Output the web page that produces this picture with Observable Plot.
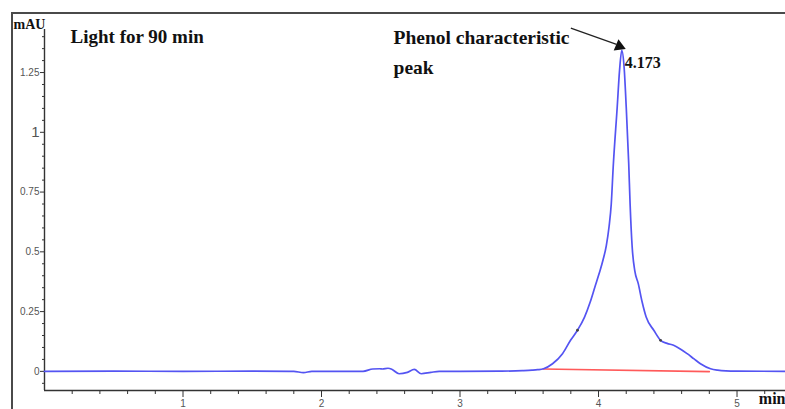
<!DOCTYPE html>
<html>
<head>
<meta charset="utf-8">
<script src="https://cdn.jsdelivr.net/npm/d3@7"></script>
<script src="https://cdn.jsdelivr.net/npm/@observablehq/plot@0.6"></script>
<style>
  html, body { margin: 0; padding: 0; background: #fff; }
  #wrap { position: relative; width: 785px; height: 409px; overflow: hidden; }
  #border { position: absolute; left: 11px; top: 12px; width: 800px; height: 420px;
            border-left: 2px solid #4a4a4a; border-top: 2px solid #4a4a4a; pointer-events: none; }
</style>
</head>
<body>
<div id="wrap"><div id="border"></div></div>
<script>
// Chromatogram trace (time in min, absorbance in mAU)
const time = [0, 0.5, 1.0, 1.5, 1.8, 1.87, 1.93, 2.3, 2.37, 2.42, 2.44, 2.48, 2.51, 2.56, 2.62, 2.67, 2.72, 2.79, 2.85,
  3.0, 3.3, 3.45, 3.52, 3.56, 3.603, 3.668, 3.74, 3.798, 3.848, 3.899, 3.94, 3.975, 4.005, 4.032, 4.056, 4.076, 4.092, 4.106,
  4.135, 4.152, 4.168, 4.185, 4.20, 4.218, 4.228, 4.243, 4.262, 4.287, 4.315, 4.344, 4.399, 4.448, 4.495, 4.542, 4.59,
  4.64, 4.69, 4.736, 4.809, 4.86, 4.92, 5.0, 5.35];
const mAU = [0, 0.001, 0.000, 0.001, 0.000, -0.005, 0.000, 0.000, 0.010, 0.011, 0.010, 0.013, 0.008, -0.010, -0.004, 0.008, -0.010, -0.004, 0.000,
  0.000, 0.001, 0.003, 0.005, 0.007, 0.011, 0.032, 0.074, 0.13, 0.172, 0.227, 0.29, 0.355, 0.41, 0.465, 0.525, 0.605, 0.70, 0.855,
  1.106, 1.26, 1.343, 1.27, 1.106, 0.87, 0.70, 0.52, 0.42, 0.367, 0.29, 0.227, 0.172, 0.13, 0.117, 0.109, 0.094,
  0.074, 0.052, 0.032, 0.011, 0.005, 0.002, 0.001, 0.000];

// Integration baseline
const baseX = [3.60, 4.80];
const baseY = [0.010, -0.001];

// Peak start/end integration marks
const markX = [3.848, 4.448];
const markY = [0.172, 0.13];

// Axis ticks
const xMajor = [1, 2, 3, 4, 5];
const xMinor = d3.range(0.2, 5.35, 0.2).filter(v => Math.abs(v - Math.round(v)) > 0.01);
const yMajor = [0, 0.25, 0.5, 0.75, 1, 1.25];
const yMajorLabels = ["0", "0.25", "0.5", "0.75", "1", "1.25"];
const yMinor = d3.range(-0.05, 1.42, 0.05).filter(v => Math.abs(v / 0.25 - Math.round(v / 0.25)) > 0.01);

// Annotation
const peakLabel = "4.173";

const trace = time.map((t, i) => ({t, v: mAU[i]}));
const baseline = baseX.map((t, i) => ({t, v: baseY[i]}));
const marks = markX.map((t, i) => ({t, v: markY[i]}));
const yLab = yMajor.map((v, i) => ({v, s: yMajorLabels[i]}));

const serif = "'Liberation Serif', 'DejaVu Serif', serif";
const sans = "'Liberation Sans', Arial, sans-serif";

const chart = Plot.plot({
  width: 785,
  height: 409,
  marginLeft: 44,
  marginRight: 0,
  marginTop: 29,
  marginBottom: 19,
  x: {domain: [0, 5.35]},
  y: {domain: [-0.08, 1.43]},
  style: {background: "transparent", overflow: "visible"},
  marks: [
    // axes lines
    Plot.ruleX([0], {stroke: "#333", strokeWidth: 1.4}),
    Plot.ruleY([-0.08], {stroke: "#333", strokeWidth: 1.4}),
    // x ticks
    Plot.axisX(xMinor, {tickSize: 4, tickFormat: () => "", stroke: "#333"}),
    Plot.axisX(xMajor, {tickSize: 7, tickPadding: 2, tickFormat: d => String(d), fontSize: 10, fill: "#555", stroke: "#333", label: null, fontFamily: sans}),
    // y ticks
    Plot.axisY(yMinor, {tickSize: 2, tickFormat: () => "", stroke: "#333"}),
    Plot.axisY(yMajor, {tickSize: 4, tickFormat: () => "", stroke: "#333", label: null}),
    Plot.text(yLab, {y: "v", text: "s", frameAnchor: "left", dx: -5, textAnchor: "end",
      fontSize: d => d.v === 1 ? 15 : 10, fill: "#555", fontFamily: sans}),
    // baseline & trace
    Plot.line(baseline, {x: "t", y: "v", stroke: "#ff5a5a", strokeWidth: 1.6}),
    Plot.line(trace, {x: "t", y: "v", stroke: "#5454f2", strokeWidth: 1.7, curve: "monotone-x"}),
    Plot.dot(marks, {x: "t", y: "v", r: 1.4, fill: "#444"}),
    // annotations
    Plot.link([{x1: 3.80, y1: 1.436, x2: 4.13, y2: 1.368}], {x1: "x1", y1: "y1", x2: "x2", y2: "y2", stroke: "#222", strokeWidth: 1.3}),
    Plot.dot([{x: 4.15, y: 1.36}], {x: "x", y: "y", symbol: "triangle", r: 4.5, fill: "#111", rotate: 113}),
    Plot.text([peakLabel], {x: 4.19, y: 1.29, textAnchor: "start", fontWeight: "bold", fontSize: 16, fontFamily: serif, fill: "#111"}),
    Plot.text(["Light for 90 min"], {x: 0.188, y: 1.397, textAnchor: "start", fontWeight: "bold", fontSize: 19, fontFamily: serif, fill: "#111"}),
    Plot.text(["Phenol characteristic"], {x: 2.52, y: 1.397, textAnchor: "start", fontWeight: "bold", fontSize: 19.5, fontFamily: serif, fill: "#111"}),
    Plot.text(["peak"], {x: 2.52, y: 1.272, textAnchor: "start", fontWeight: "bold", fontSize: 19.5, fontFamily: serif, fill: "#111"}),
    Plot.text(["mAU"], {frameAnchor: "top-left", dx: -31, dy: -10, textAnchor: "start", fontWeight: "bold", fontSize: 14, fontFamily: serif, fill: "#111"}),
    Plot.text(["min"], {frameAnchor: "bottom-right", dx: 0, dy: 13, textAnchor: "end", fontWeight: "bold", fontSize: 16, fontFamily: serif, fill: "#111"})
  ]
});
chart.style.position = "absolute";
chart.style.left = "0px";
chart.style.top = "0px";
document.getElementById("wrap").prepend(chart);
</script>
</body>
</html>
